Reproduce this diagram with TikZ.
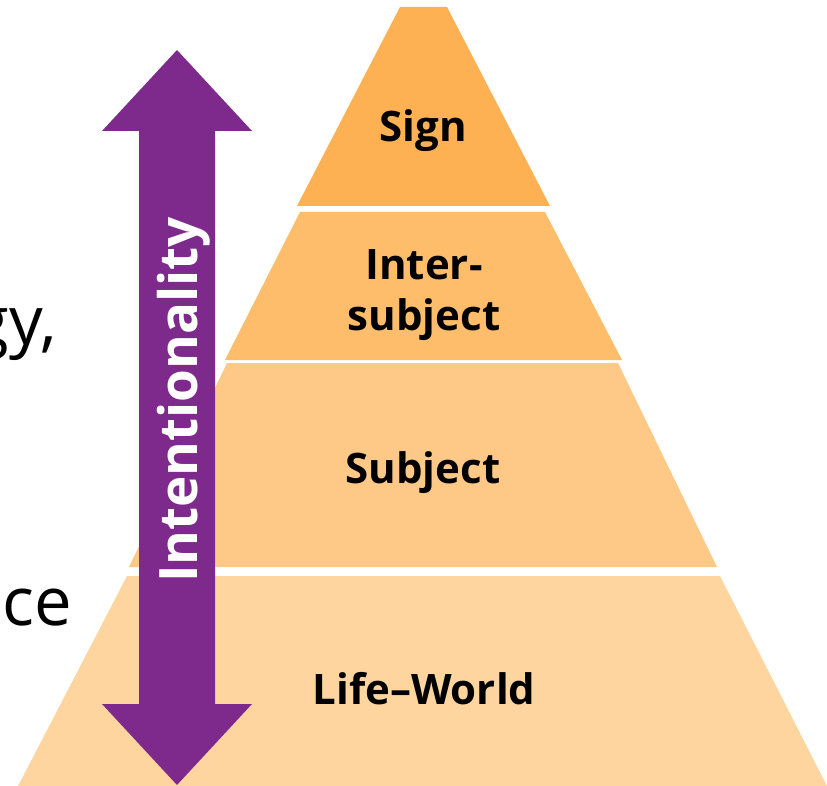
\documentclass[tikz,border=0pt]{standalone}
\usepackage{fontspec}
\setmainfont{Open Sans}
\usetikzlibrary{calc}

\definecolor{signorange}{HTML}{FDB153}
\definecolor{interorange}{HTML}{FDBD6B}
\definecolor{subjorange}{HTML}{FEC987}
\definecolor{lifeorange}{HTML}{FED49F}
\definecolor{intentpurple}{HTML}{7E2A8C}

\begin{document}
\begin{tikzpicture}[x=1pt, y=-1pt, every node/.style={inner sep=0pt, outer sep=0pt},
  layer/.style={fill=#1, draw=none},
  layertext/.style={font=\fontsize{42}{51}\selectfont\bfseries, align=center, anchor=base},
  slidetext/.style={font=\fontsize{67}{70}\selectfont, anchor=base east}]
\useasboundingbox (0,0) rectangle (827,786);
\clip (0,0) rectangle (827,786);

\fill[layer=lifeorange] (127,576) -- (720,576) -- (829,790) -- (16,790) -- cycle;
\fill[layer=subjorange] (227,363) -- (618,363) -- (717,567) -- (129,567) -- cycle;
\fill[layer=interorange] (300,212) -- (545,212) -- (622,360) -- (225,360) -- cycle;
\fill[layer=signorange] (400,7) -- (447,7) -- (550,206) -- (297,206) -- cycle;

\node[layertext] (sign) at (423,142) {Sign};
\node[layertext] (intersubject) at (424,330) {Inter-\\subject};
\node[layertext] (subject) at (423,483) {Subject};
\node[layertext] (lifeworld) at (424,704) {Life–World};

\fill[intentpurple] (177,50) -- (252,131) -- (215,131) -- (215,704) -- (252,704)
  -- (177,785) -- (102,704) -- (139,704) -- (139,131) -- (102,131) -- cycle;
\node[rotate=90, anchor=base, text=white, font=\fontsize{53}{60}\selectfont\bfseries] (intent) at (197,400) {Intentionality};

\node[slidetext] (gy) at (57,344) {gy,};
\node[slidetext] (ce) at (72,625) {ce};
\end{tikzpicture}
\end{document}
